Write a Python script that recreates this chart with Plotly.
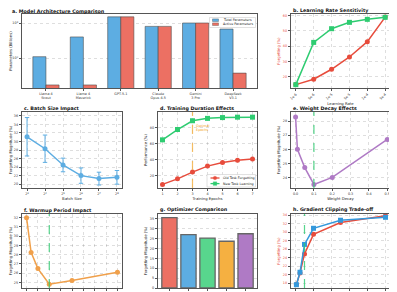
import math
import plotly.graph_objects as go

# ---------------- data ----------------
models = ["Llama 4<br>Scout", "Llama 4<br>Maverick", "GPT-5.1", "Claude<br>Opus 4.5", "Gemini<br>3 Pro", "DeepSeek<br>V3.1"]
total_params = [109, 400, 1500, 800, 1000, 671]
active_params = [17, 17, 1500, 800, 1000, 37]

lr_labels = ["1e-6", "5e-6", "1e-5", "5e-5", "1e-4", "5e-4"]
lr_forgetting = [15.0, 18.5, 25.0, 33.0, 43.0, 59.0]
lr_new_acc = [55.0, 80.3, 88.5, 92.3, 94.1, 95.3]

batch_sizes = [8, 16, 32, 64, 128, 256]
batch_labels = ["2<sup>3</sup>", "2<sup>4</sup>", "2<sup>5</sup>", "2<sup>6</sup>", "2<sup>7</sup>", "2<sup>8</sup>"]
batch_forgetting = [31.1, 28.3, 24.5, 22.0, 21.3, 21.6]
batch_err = [4.5, 3.2, 1.6, 1.8, 1.5, 1.6]

epochs = [1, 2, 3, 4, 5, 6, 7]
old_forgetting = [9.0, 16.0, 24.5, 32.0, 36.5, 39.5, 41.0]
new_learning = [65.0, 78.0, 89.0, 92.0, 93.0, 93.5, 93.5]
optimal_epoch = 3

weight_decay = [0.0, 0.01, 0.05, 0.1, 0.2, 0.5]
wd_forgetting = [28.3, 26.0, 24.7, 23.5, 24.0, 26.7]
best_wd = 0.1

warmup_steps = [0, 100, 250, 500, 1000, 2000]
warmup_forgetting = [32.0, 28.25, 26.5, 24.8, 25.2, 26.1]
best_warmup = 500

optimizers = ["SGD", "Adam", "AdamW", "Lion", "Adafactor"]
opt_forgetting = [35.7, 27.0, 25.3, 23.7, 27.5]
opt_colors = ["#EC7063", "#5DADE2", "#58D68D", "#F5B041", "#AF7AC5"]

clip_norm = [0.1, 0.5, 1.0, 2.0, 5.0, 10.0]
clip_forgetting = [17.7, 20.4, 24.9, 29.5, 32.3, 33.9]
clip_speed = [0.45, 0.62, 1.0, 1.22, 1.33, 1.37]
best_clip = 1.0

# ---------------- layout helpers ----------------
W, H = 397, 292
def dx(a, b): return [a / W, b / W]
def dy(t, b): return [1 - b / H, 1 - t / H]
def px(x): return x / W
def py(y): return 1 - y / H

C1, C2, C3, CA = (14, 114), (150, 249), (283, 382), (14, 249)
R1, R2, R3 = (6, 80), (104, 180), (206, 280)

BLUE, RED, GREEN, PURPLE, ORANGE = "#5DADE2", "#E74C3C", "#2ECC71", "#AF7AC5", "#F0A04B"
FONT = "DejaVu Sans"
TICKF = dict(size=3.4, color="#333", family=FONT)
TITF = dict(size=3.8, color="#222", family=FONT)
LW, MS = 1.5, 5

def ax(domain, **kw):
    d = dict(domain=domain, showline=True, mirror=True, linecolor="#555", linewidth=1.3,
             ticks="outside", ticklen=2, tickwidth=0.6, tickcolor="#555",
             tickfont=TICKF, showgrid=True, gridcolor="rgba(0,0,0,0.13)", griddash="dot",
             gridwidth=0.6, zeroline=False, automargin=False)
    if "title" in kw:
        t = kw.pop("title")
        d["title"] = dict(text=t, font=kw.pop("titlefont", TITF), standoff=kw.pop("standoff", 2))
    d.update(kw)
    return d

fig = go.Figure()

# a. bars
fig.add_trace(go.Bar(x=models, y=total_params, name="Total Parameters",
                     marker=dict(color=BLUE, line=dict(color="rgba(70,70,70,0.7)", width=0.8)),
                     width=0.35, offset=-0.35, xaxis="x", yaxis="y", showlegend=False))
fig.add_trace(go.Bar(x=models, y=active_params, name="Active Parameters",
                     marker=dict(color="#EC7063", line=dict(color="rgba(70,70,70,0.7)", width=0.8)),
                     width=0.35, offset=0.0, xaxis="x", yaxis="y", showlegend=False))

# b. learning rate
fig.add_trace(go.Scatter(x=lr_labels, y=lr_forgetting, mode="lines+markers", line=dict(color=RED, width=LW),
                         marker=dict(symbol="circle", size=MS, color=RED), xaxis="x2", yaxis="y2", showlegend=False))
fig.add_trace(go.Scatter(x=lr_labels, y=lr_new_acc, mode="lines+markers", line=dict(color=GREEN, width=LW),
                         marker=dict(symbol="square", size=MS, color=GREEN), xaxis="x2", yaxis="y3", showlegend=False))

# c. batch size
fig.add_trace(go.Scatter(x=batch_sizes, y=batch_forgetting, mode="lines+markers",
                         line=dict(color=BLUE, width=LW), marker=dict(size=MS, color=BLUE),
                         error_y=dict(type="data", array=batch_err, color=BLUE, thickness=1.0, width=2.2),
                         xaxis="x3", yaxis="y4", showlegend=False))

# d. training duration
fig.add_trace(go.Scatter(x=epochs, y=old_forgetting, mode="lines+markers", line=dict(color=RED, width=LW),
                         marker=dict(symbol="circle", size=MS, color=RED), xaxis="x4", yaxis="y5", showlegend=False))
fig.add_trace(go.Scatter(x=epochs, y=new_learning, mode="lines+markers", line=dict(color=GREEN, width=LW),
                         marker=dict(symbol="square", size=MS, color=GREEN), xaxis="x4", yaxis="y5", showlegend=False))

# e. weight decay
fig.add_trace(go.Scatter(x=weight_decay, y=wd_forgetting, mode="lines+markers", line=dict(color=PURPLE, width=LW),
                         marker=dict(size=MS, color=PURPLE), xaxis="x5", yaxis="y6", showlegend=False))

# f. warmup
fig.add_trace(go.Scatter(x=warmup_steps, y=warmup_forgetting, mode="lines+markers", line=dict(color=ORANGE, width=LW),
                         marker=dict(size=MS, color=ORANGE), xaxis="x6", yaxis="y7", showlegend=False))

# g. optimizers
fig.add_trace(go.Bar(x=optimizers, y=opt_forgetting, width=0.8,
                     marker=dict(color=opt_colors, line=dict(color="#666", width=1.3)),
                     xaxis="x7", yaxis="y8", showlegend=False))

# h. gradient clipping
fig.add_trace(go.Scatter(x=clip_norm, y=clip_forgetting, mode="lines+markers", line=dict(color=RED, width=LW),
                         marker=dict(symbol="circle", size=MS, color=RED), xaxis="x8", yaxis="y9", showlegend=False))
fig.add_trace(go.Scatter(x=clip_norm, y=clip_speed, mode="lines+markers", line=dict(color="#3498DB", width=LW),
                         marker=dict(symbol="square", size=MS, color="#3498DB"), xaxis="x8", yaxis="y10", showlegend=False))

layout = dict(width=W, height=H, margin=dict(l=0, r=0, t=0, b=0), autosize=False,
              paper_bgcolor="white", plot_bgcolor="white", barmode="overlay",
              font=dict(family=FONT, size=3.6, color="#222"))

layout["xaxis"] = ax(dx(*CA), anchor="y", showgrid=False, range=[-0.64, 5.64], type="category", ticklen=1.5)
layout["yaxis"] = ax(dy(*R1), anchor="x", type="log", range=[1.143, 3.257], tickvals=[100, 1000],
                     ticktext=["10<sup>2</sup>", "10<sup>3</sup>"], title="Parameters (Billions)")

layout["xaxis2"] = ax(dx(*C3), anchor="y2", type="category", range=[-0.27, 5.27], tickangle=-45,
                      title="Learning Rate", standoff=1)
layout["yaxis2"] = ax(dy(*R1), anchor="x2", range=[12.8, 61.0], dtick=10,
                      tickfont=dict(size=3.4, color=RED, family=FONT), title="Forgetting (%)",
                      titlefont=dict(size=3.8, color=RED, family=FONT))
layout["yaxis3"] = ax(dy(*R1), anchor="x2", overlaying="y2", side="right", showline=False, showgrid=False,
                      range=[53, 97.3], dtick=10, ticklen=1.5, tickfont=dict(size=3.4, color="#27AE60", family=FONT),
                      title="New Task Accuracy (%)", standoff=0.5,
                      titlefont=dict(size=3.8, color="#27AE60", family=FONT))

layout["xaxis3"] = ax(dx(*C1), anchor="y4", type="log",
                      range=[2.72 * math.log10(2), 8.28 * math.log10(2)],
                      tickvals=batch_sizes, ticktext=batch_labels, title="Batch Size", standoff=1.5)
layout["yaxis4"] = ax(dy(*R2), anchor="x3", range=[19.1, 36.9], dtick=2, title="Forgetting Magnitude (%)")

layout["xaxis4"] = ax(dx(*C2), anchor="y5", range=[0.7, 7.3], dtick=1, title="Training Epochs", standoff=1.5)
layout["yaxis5"] = ax(dy(*R2), anchor="x4", range=[4.5, 100], tickvals=[20, 40, 60, 80], title="Performance (%)")

layout["xaxis5"] = ax(dx(*C3), anchor="y6", range=[-0.025, 0.515], dtick=0.1, tickformat=".1f",
                      title="Weight Decay", standoff=1.5)
layout["yaxis6"] = ax(dy(*R2), anchor="x5", range=[23.25, 28.65], dtick=1, title="Forgetting Magnitude (%)")

layout["xaxis6"] = ax(dx(*C1), anchor="y7", range=[-100, 2100], dtick=250, title="Warmup Steps", standoff=1,
                      ticklen=1.5)
layout["yaxis7"] = ax(dy(*R3), anchor="x6", range=[24.4, 32.4], dtick=1, title="Forgetting Magnitude (%)")

layout["xaxis7"] = ax(dx(*C2), anchor="y8", type="category", range=[-0.6, 4.6], showgrid=False, ticklen=1.5)
layout["yaxis8"] = ax(dy(*R3), anchor="x7", range=[0, 37.5], dtick=5, title="Forgetting Magnitude (%)")

layout["xaxis8"] = ax(dx(*C3), anchor="y9", range=[-0.5, 10.5], dtick=2, title="Gradient Clip Norm", standoff=1,
                      ticklen=1.5)
layout["yaxis9"] = ax(dy(*R3), anchor="x8", range=[16.86, 34.3], dtick=2,
                      tickfont=dict(size=3.4, color=RED, family=FONT), title="Forgetting (%)",
                      titlefont=dict(size=3.8, color=RED, family=FONT))
layout["yaxis10"] = ax(dy(*R3), anchor="x8", overlaying="y9", side="right", showline=False, showgrid=False,
                       range=[0.405, 1.415], dtick=0.2, tickformat=".1f", ticklen=1.5,
                       tickfont=dict(size=3.4, color="#3498DB", family=FONT),
                       title="Relative Convergence Speed", standoff=0.5,
                       titlefont=dict(size=3.8, color="#3498DB", family=FONT))

fig.update_layout(**layout)

# vertical reference lines
vlines = [("x4", "y5", optimal_epoch, "#F5B041"), ("x5", "y6", best_wd, GREEN),
          ("x6", "y7", best_warmup, GREEN), ("x8", "y9", best_clip, GREEN)]
for xr, yr, xv, col in vlines:
    fig.add_shape(type="line", xref=xr, yref=yr + " domain", x0=xv, x1=xv, y0=0, y1=1,
                  line=dict(color=col, width=1.2, dash="dash"), opacity=0.8)

fig.add_annotation(xref="x4", yref="y5", x=optimal_epoch, y=80, xanchor="left", yanchor="middle", xshift=1,
                   text="Optimal<br>Epochs", showarrow=False, align="left",
                   font=dict(size=3.4, color="#F39C12", family=FONT))

# panel titles
titles = [("a. Model Architecture Comparison", 2, 3), ("b. Learning Rate Sensitivity", 283, 3),
          ("c. Batch Size Impact", 14, 100.5), ("d. Training Duration Effects", 150, 100.5),
          ("e. Weight Decay Effects", 283, 101), ("f. Warmup Period Impact", 14, 202),
          ("g. Optimizer Comparison", 150, 202), ("h. Gradient Clipping Trade-off", 283, 202)]
for t, x, y in titles:
    fig.add_annotation(xref="paper", yref="paper", x=px(x), y=py(y), xanchor="left", yanchor="middle",
                       text="<b>" + t + "</b>", showarrow=False, font=dict(size=4.8, color="#111", family=FONT))

# legend a (manual)
fig.add_shape(type="rect", xref="paper", yref="paper", x0=px(201.5), x1=px(247.5), y0=py(19.5), y1=py(9.5),
              line=dict(color="#ccc", width=0.6), fillcolor="rgba(255,255,255,0.9)")
for i, (name, col) in enumerate([("Total Parameters", BLUE), ("Active Parameters", "#EC7063")]):
    yc = 12.2 + i * 4.0
    fig.add_shape(type="rect", xref="paper", yref="paper", x0=px(204.5), x1=px(210.5), y0=py(yc + 1.3), y1=py(yc - 1.3),
                  line=dict(color="rgba(70,70,70,0.7)", width=0.5), fillcolor=col)
    fig.add_annotation(xref="paper", yref="paper", x=px(212.5), y=py(yc), xanchor="left", yanchor="middle",
                       text=name, showarrow=False, font=dict(size=3.3, color="#222", family=FONT))

# legend d (manual)
fig.add_shape(type="rect", xref="paper", yref="paper", x0=px(199), x1=px(247.5), y0=py(179), y1=py(166.5),
              line=dict(color="#ccc", width=0.6), fillcolor="rgba(255,255,255,0.9)")
for i, (name, col, sym) in enumerate([("Old Task Forgetting", RED, "circle"), ("New Task Learning", GREEN, "rect")]):
    yc = 170.0 + i * 5.6
    fig.add_shape(type="line", xref="paper", yref="paper", x0=px(202.5), x1=px(211.5), y0=py(yc), y1=py(yc),
                  line=dict(color=col, width=1.3))
    fig.add_shape(type=sym, xref="paper", yref="paper", x0=px(205.2), x1=px(208.8), y0=py(yc + 1.8), y1=py(yc - 1.8),
                  line=dict(color=col, width=0.3), fillcolor=col)
    fig.add_annotation(xref="paper", yref="paper", x=px(213.5), y=py(yc), xanchor="left", yanchor="middle",
                       text=name, showarrow=False, font=dict(size=3.3, color="#222", family=FONT))

fig.write_html("out.html")
